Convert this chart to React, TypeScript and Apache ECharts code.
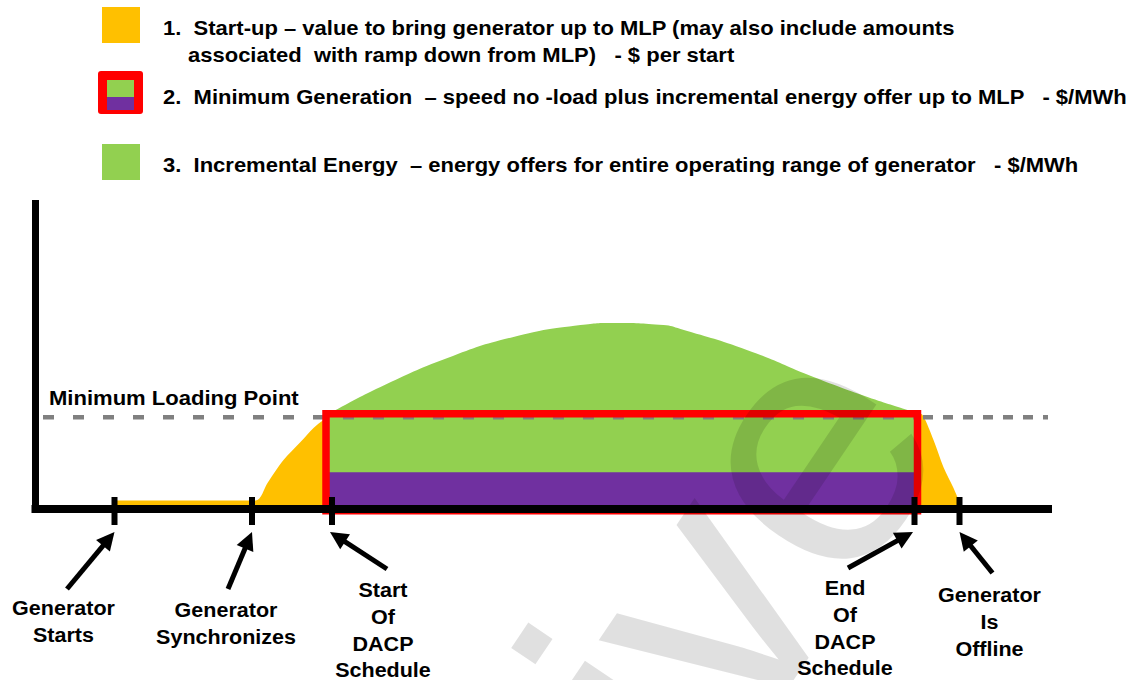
import React, { useEffect, useRef } from "react";
import * as echarts from "echarts";

const FONT = '"Liberation Sans", Arial, Helvetica, sans-serif';

// ---- data (time units along the x axis, output in % of range on the y axis) ----
const mlpLevel = 30; // Minimum Loading Point
const minGenTop = 31.2;
const minGenBottom = -0.6;
const minGenWindow = [58.1, 176.4]; // DACP schedule window (red box)
const speedNoLoad = 12; // purple band height

const startupTimes = [16, 44, 46.4, 49.6, 53, 55.6, 57.6, 58.6];
const startupValues = [2.8, 2.8, 8.5, 16.0, 21.9, 26.5, 29.1, 30.1];

const energyTimes = [57.6, 59, 69, 82.4, 95.6, 109, 115.6, 125.6, 129, 142.4, 155.6, 166.4, 175.6, 176.8];
const energyValues = [29.8, 31.4, 39.9, 49.4, 56.3, 60.2, 60.9, 60.2, 58.9, 52.0, 43.2, 36.7, 31.8, 31.0];

const rampDownTimes = [176.2, 177.4, 179.6, 181.6, 183.6, 184.6, 185];
const rampDownValues = [31.4, 30.8, 22.6, 13.7, 6.9, 2.9, 0];

const eventTimes = [15.8, 43.3, 59.3, 175.8, 184.8];
const eventLabels = [
  "Generator\nStarts",
  "Generator\nSynchronizes",
  "Start\nOf\nDACP\nSchedule",
  "End\nOf\nDACP\nSchedule",
  "Generator\nIs\nOffline",
];

const legendLines = [
  "1.  Start-up – value to bring generator up to MLP (may also include amounts",
  "associated  with ramp down from MLP)   - $ per start",
  "2.  Minimum Generation  – speed no -load plus incremental energy offer up to MLP   - $/MWh",
  "3.  Incremental Energy  – energy offers for entire operating range of generator   - $/MWh",
];

const mlpLabel = "Minimum Loading Point";
const watermark = "Archive";

// ---- colours ----
const ORANGE = "#FFC000";
const GREEN = "#92D050";
const PURPLE = "#7030A0";
const RED = "#FF0000";
const GREY = "#808080";

const zip = (a: number[], b: number[]) => a.map((t, i) => [t, b[i]]);

// layout of annotations (pixels relative to each tick)
const arrowTails = [
  [-47.5, 80],
  [-24, 80],
  [55, 60],
  [-66.5, 59],
  [33, 64],
];
const arrowTipDx = [0, 0, -2, -1.5, 0];
const labelDx = [-51, -26, 51, -69.5, 30];
const labelFirstLineY = [608, 610, 590, 588, 595];

function baseSeries(): any[] {
  const area = (name: string, data: number[][], color: string, z: number, smooth: number) => ({
    name,
    type: "line",
    data,
    showSymbol: false,
    symbol: "none",
    smooth,
    lineStyle: { width: 0, color },
    itemStyle: { color },
    areaStyle: { color, opacity: 1 },
    z,
    silent: true,
    clip: false,
  });
  return [
    area("Incremental Energy", zip(energyTimes, energyValues), GREEN, 2, 0.5),
    area("Start-up", zip(startupTimes, startupValues), ORANGE, 2, 0.3),
    area("Ramp down", zip(rampDownTimes, rampDownValues), ORANGE, 2, 0.3),
    {
      name: "Speed no-load",
      type: "line",
      data: [
        [minGenWindow[0], speedNoLoad],
        [minGenWindow[1], speedNoLoad],
      ],
      symbol: "none",
      lineStyle: { width: 0 },
      areaStyle: { color: PURPLE, opacity: 1 },
      z: 3,
      clip: false,
    },
    {
      name: "MLP",
      type: "line",
      data: [
        [1.5, mlpLevel],
        [minGenWindow[1], mlpLevel],
      ],
      symbol: "none",
      lineStyle: { width: 4.5, color: GREY, type: [11, 19] },
      z: 4,
      clip: false,
    },
    {
      name: "MLP2",
      type: "line",
      data: [
        [minGenWindow[1] + 1.1, mlpLevel],
        [202.5, mlpLevel],
      ],
      symbol: "none",
      lineStyle: { width: 4.5, color: GREY, type: [10, 10] },
      z: 4,
      clip: false,
    },
    {
      name: "Minimum Generation",
      type: "line",
      data: [
        [minGenWindow[0], minGenBottom],
        [minGenWindow[0], minGenTop],
        [minGenWindow[1], minGenTop],
        [minGenWindow[1], minGenBottom],
        [minGenWindow[0], minGenBottom],
      ],
      symbol: "none",
      lineStyle: { width: 7.5, color: RED, join: "miter", cap: "square" },
      z: 5,
      clip: false,
    },
    {
      name: "Events",
      type: "scatter",
      data: eventTimes.map((t) => [t, 0]),
      symbol: "rect",
      symbolSize: [6, 28],
      symbolOffset: [0, 2],
      itemStyle: { color: "#000", opacity: 1 },
      z: 7,
      clip: false,
    },
  ];
}

const baseOption: any = {
  animation: false,
  backgroundColor: "#ffffff",
  grid: { left: 35.5, top: 203.5, width: 1012.5, height: 305.5, containLabel: false },
  xAxis: {
    type: "value",
    min: 0,
    max: 202.5,
    axisLine: { show: true, onZero: false, lineStyle: { color: "#000", width: 8, cap: "square" } },
    axisTick: { show: false },
    axisLabel: { show: false },
    splitLine: { show: false },
    z: 6,
  },
  yAxis: {
    type: "value",
    min: 0,
    max: 100,
    axisLine: { show: true, onZero: false, lineStyle: { color: "#000", width: 7, cap: "square" } },
    axisTick: { show: false },
    axisLabel: { show: false },
    splitLine: { show: false },
    z: 6,
  },
  series: baseSeries(),
};

const textStyle = (text: string, size: number, align: string, vAlign: string, extra: any = {}) => ({
  text,
  fill: "#000",
  fontFamily: FONT,
  fontWeight: "bold",
  fontSize: size,
  align,
  verticalAlign: vAlign,
  textAlign: align,
  textVerticalAlign: vAlign,
  ...extra,
});

export default function App() {
  const ref = useRef<HTMLDivElement>(null);
  useEffect(() => {
    const chart = echarts.init(ref.current!, null, { renderer: "svg" });
    chart.setOption(baseOption);
    const toPx = (t: number, v: number) => chart.convertToPixel({ gridIndex: 0 }, [t, v]) as number[];
    const fromPx = (x: number, y: number) => chart.convertFromPixel({ gridIndex: 0 }, [x, y]) as number[];

    const axisY = toPx(0, 0)[1];
    const arrowData = eventTimes.map((t, i) => {
      const tickX = toPx(t, 0)[0];
      const tip = [tickX + arrowTipDx[i], axisY + 23];
      const tail = [tickX + arrowTails[i][0], axisY + arrowTails[i][1]];
      const dx = tail[0] - tip[0];
      const dy = tail[1] - tip[1];
      const len = Math.hypot(dx, dy);
      const end = [tip[0] + (dx / len) * 9, tip[1] + (dy / len) * 9];
      return { coords: [fromPx(tail[0], tail[1]), fromPx(end[0], end[1])] };
    });

    const graphic: any[] = [];
    // legend
    graphic.push({ type: "rect", shape: { x: 102, y: 7, width: 38, height: 36 }, style: { fill: ORANGE } });
    graphic.push({ type: "rect", shape: { x: 98, y: 71, width: 45, height: 43, r: 3 }, style: { fill: RED } });
    graphic.push({ type: "rect", shape: { x: 107, y: 80, width: 27, height: 17 }, style: { fill: GREEN } });
    graphic.push({ type: "rect", shape: { x: 107, y: 97, width: 27, height: 13 }, style: { fill: PURPLE } });
    graphic.push({ type: "rect", shape: { x: 102, y: 144, width: 38, height: 36 }, style: { fill: GREEN } });
    const legendPos = [
      [163, 28],
      [188, 55],
      [163, 97],
      [163, 165],
    ];
    legendLines.forEach((txt, i) => {
      graphic.push({
        type: "text",
        x: legendPos[i][0],
        y: legendPos[i][1],
        scaleX: 1.1,
        style: textStyle(txt, 20, "left", "middle"),
      });
    });
    // MLP label
    graphic.push({
      type: "text",
      x: 49,
      y: 398,
      scaleX: 1.05,
      style: textStyle(mlpLabel, 21, "left", "middle"),
    });
    // event labels
    eventTimes.forEach((t, i) => {
      const tickX = toPx(t, 0)[0];
      graphic.push({
        type: "text",
        x: tickX + labelDx[i],
        y: labelFirstLineY[i] - 13.3,
        scaleX: 1.05,
        style: textStyle(eventLabels[i], 20.5, "center", "top", { lineHeight: 26.7 }),
      });
    });
    // watermark
    graphic.push({
      type: "text",
      x: 856,
      y: 372,
      rotation: (56 * Math.PI) / 180,
      z: 100,
      silent: true,
      style: {
        text: watermark,
        fill: "rgba(0,0,0,0.12)",
        fontFamily: FONT,
        fontSize: 348,
        align: "right",
        verticalAlign: "middle",
        textAlign: "right",
        textVerticalAlign: "middle",
      },
    });

    chart.setOption(
      {
        ...baseOption,
        series: [
          ...baseSeries(),
          {
            name: "Arrows",
            type: "lines",
            coordinateSystem: "cartesian2d",
            data: arrowData,
            symbol: ["none", "triangle"],
            symbolSize: [17, 18],
            lineStyle: { color: "#000", width: 5, opacity: 1, curveness: 0 },
            itemStyle: { color: "#000" },
            z: 8,
            clip: false,
            silent: true,
          },
        ],
        graphic,
      },
      { notMerge: true }
    );
    return () => chart.dispose();
  }, []);
  return (
    <div
      ref={ref}
      style={{ position: "fixed", left: 0, top: 0, width: 1141, height: 680, background: "#fff" }}
    />
  );
}
